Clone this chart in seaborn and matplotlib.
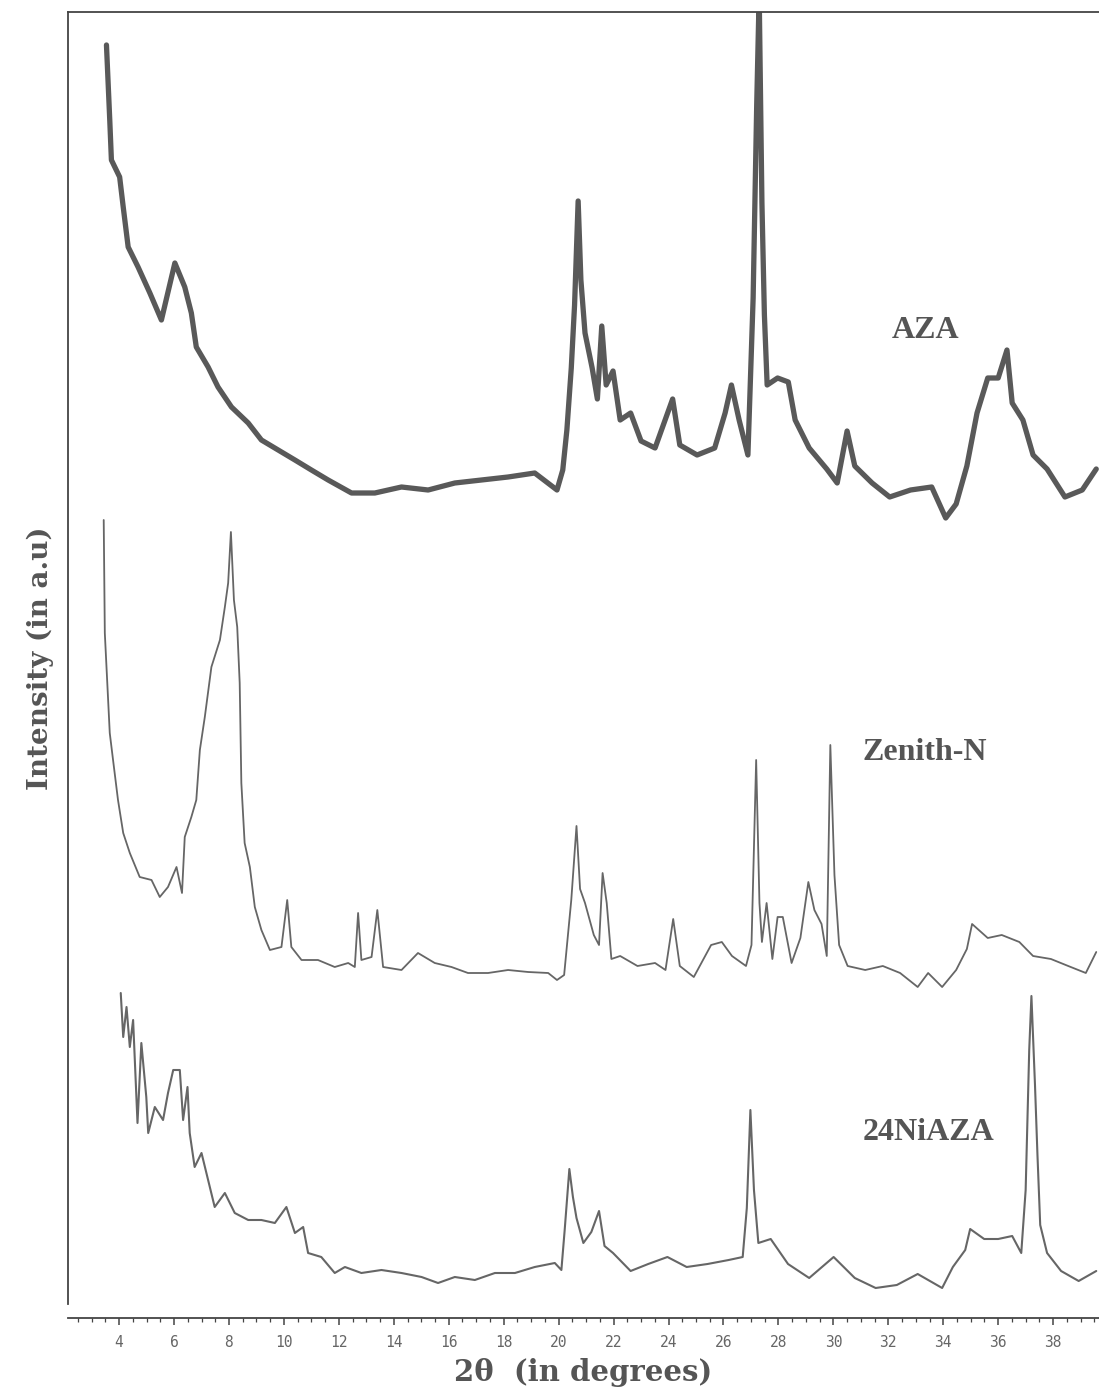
import numpy as np
import pandas as pd
import matplotlib
matplotlib.use("Agg")
import matplotlib.pyplot as plt
from matplotlib.ticker import MultipleLocator
import seaborn as sns

# ---------------- data (2theta in degrees, intensity in a.u.) ----------------
aza_2theta = [3.54, 3.66, 3.72, 4.02, 4.15, 4.33, 4.69, 5.12, 5.54, 6.03, 6.39, 6.63, 6.81,
              7.24, 7.60, 8.09, 8.70, 9.18, 9.79, 10.40, 11.0, 11.61, 12.46, 13.31, 14.28,
              15.25, 16.22, 17.19, 18.16, 19.13, 19.94, 20.15, 20.30, 20.46, 20.58, 20.71,
              20.81, 20.96, 21.22, 21.41, 21.57, 21.73, 21.98, 22.24, 22.62, 23.0, 23.51,
              24.15, 24.41, 25.04, 25.68, 26.06, 26.29, 26.57, 26.89, 27.08, 27.21, 27.30,
              27.40, 27.49, 27.59, 27.97, 28.36, 28.61, 29.12, 29.76, 30.14, 30.50, 30.78,
              31.41, 32.05, 32.81, 33.58, 34.09, 34.47, 34.86, 35.23, 35.62, 36.0, 36.32,
              36.51, 36.9, 37.27, 37.78, 38.43, 39.06, 39.57]
aza_int = [1259, 1184, 1144, 1127, 1097, 1057, 1037, 1011, 984, 1041, 1017, 991, 957,
           937, 917, 897, 881, 864, 854, 844, 834, 824, 811, 811, 817,
           814, 821, 824, 827, 831, 814, 834, 874, 936, 999, 1103,
           1024, 971, 936, 905, 978, 919, 933, 884, 891, 863, 856,
           905, 859, 849, 856, 891, 919, 884, 849, 1006, 1199, 1310,
           1101, 989, 919, 926, 922, 884, 856, 835, 821, 873, 838,
           821, 807, 814, 817, 786, 800, 838, 891, 926, 926, 954,
           901, 884, 849, 835, 807, 814, 835]

zen_2theta = [3.44, 3.48, 3.66, 3.78, 3.96, 4.15, 4.39, 4.75, 5.18, 5.48, 5.78, 6.09, 6.29,
              6.39, 6.63, 6.81, 6.94, 7.12, 7.36, 7.67, 7.85, 7.97, 8.07, 8.18, 8.30, 8.39,
              8.45, 8.57, 8.76, 8.94, 9.18, 9.49, 9.91, 10.12, 10.27, 10.64, 11.24, 11.85,
              12.34, 12.58, 12.70, 12.82, 13.19, 13.40, 13.61, 14.28, 14.88, 15.49, 16.10,
              16.70, 17.43, 18.16, 18.89, 19.62, 19.94, 20.20, 20.46, 20.65, 20.78, 20.96,
              21.28, 21.47, 21.60, 21.75, 21.92, 22.24, 22.87, 23.51, 23.89, 24.17, 24.41,
              24.92, 25.55, 25.94, 26.31, 26.82, 27.02, 27.19, 27.31, 27.40, 27.57, 27.78,
              27.97, 28.16, 28.48, 28.80, 29.09, 29.31, 29.57, 29.76, 29.89, 30.04, 30.21,
              30.52, 31.16, 31.80, 32.43, 33.07, 33.45, 33.96, 34.47, 34.86, 35.05, 35.62,
              36.13, 36.77, 37.27, 37.92, 38.55, 39.19, 39.57]
zen_int = [784, 671, 571, 544, 504, 471, 451, 427, 424, 407, 417, 437, 411,
           467, 487, 504, 554, 587, 637, 664, 697, 721, 772, 704, 677, 621,
           521, 461, 437, 397, 374, 354, 357, 404, 357, 344, 344, 337,
           341, 337, 391, 344, 347, 394, 337, 334, 351, 341, 337,
           331, 331, 334, 332, 331, 324, 329, 404, 478, 415, 401,
           369, 359, 431, 401, 345, 348, 338, 341, 334, 385, 338,
           327, 359, 362, 348, 338, 359, 544, 401, 362, 401, 345,
           387, 387, 341, 366, 422, 394, 380, 348, 559, 429, 359,
           338, 334, 338, 331, 317, 331, 317, 334, 355, 380, 366,
           369, 362, 348, 345, 338, 331, 352]

ni_2theta = [4.06, 4.15, 4.27, 4.39, 4.51, 4.67, 4.81, 4.99, 5.06, 5.30, 5.60, 5.78, 5.97,
             6.21, 6.33, 6.49, 6.57, 6.75, 7.0, 7.24, 7.48, 7.85, 8.21, 8.70, 9.18, 9.67,
             10.09, 10.40, 10.70, 10.88, 11.36, 11.85, 12.22, 12.82, 13.55, 14.28, 15.01,
             15.61, 16.22, 16.95, 17.68, 18.41, 19.13, 19.86, 20.10, 20.22, 20.39, 20.52,
             20.65, 20.90, 21.19, 21.47, 21.67, 21.98, 22.62, 23.26, 23.96, 24.66, 25.42,
             26.19, 26.70, 26.85, 26.98, 27.11, 27.27, 27.72, 28.35, 29.12, 30.01, 30.78,
             31.54, 32.31, 33.07, 33.96, 34.35, 34.80, 34.98, 35.49, 36.0, 36.51, 36.84,
             37.0, 37.13, 37.21, 37.34, 37.43, 37.53, 37.78, 38.29, 38.93, 39.57]
ni_int = [311, 267, 297, 257, 284, 181, 261, 207, 171, 197, 184, 211, 234,
          234, 184, 217, 171, 137, 151, 124, 97, 111, 91, 84, 84, 81,
          97, 71, 77, 51, 47, 31, 37, 31, 34, 31, 27,
          21, 27, 24, 31, 31, 37, 41, 34, 74, 135, 107,
          86, 61, 72, 93, 58, 51, 33, 40, 47, 37, 40,
          44, 47, 96, 194, 114, 61, 65, 40, 26, 47, 26,
          16, 19, 30, 16, 37, 54, 75, 65, 65, 68, 51,
          114, 254, 308, 219, 149, 79, 51, 33, 23, 33]

sample_names = ["AZA", "Zenith-N", "24NiAZA"]
label_pos_2theta = [33.34, 33.32, 33.45]
label_pos_int = [973, 552, 171]

x_major = 2
x_minor = 0.5
x_limits = (2.14, 39.67)
y_limits = (0, 1292)

# ---------------- figure ----------------
sns.set_theme(style="white")
plt.rcParams["font.family"] = ["DejaVu Sans"]

fig = plt.figure(figsize=(10.99, 14.0), dpi=100)
ax = fig.add_axes([68 / 1099, 96 / 1400, 1 - 68 / 1099, 1292 / 1400])

ink = "#555555"
styles = [dict(lw=3.8, color="#595959"), dict(lw=1.3, color="#666666"), dict(lw=1.5, color="#666666")]
series = [(aza_2theta, aza_int), (zen_2theta, zen_int), (ni_2theta, ni_int)]
for (xs, ys), name, st in zip(series, sample_names, styles):
    df = pd.DataFrame({"2theta": xs, "intensity": ys})
    sns.lineplot(data=df, x="2theta", y="intensity", ax=ax, sort=False,
                 estimator=None, legend=False, **st)

for name, lx, ly in zip(sample_names, label_pos_2theta, label_pos_int):
    ax.text(lx, ly, name, ha="center", va="center", fontsize=23, fontweight="bold",
            family=["Liberation Serif", "DejaVu Serif"], color=ink)

ax.set_xlim(*x_limits)
ax.set_ylim(*y_limits)

for side in ["left", "top", "bottom"]:
    ax.spines[side].set_visible(True)
    ax.spines[side].set_color("#444444")
    ax.spines[side].set_linewidth(1.3)
ax.spines["right"].set_visible(False)
ax.spines["bottom"].set_position(("outward", 10))

ax.xaxis.set_major_locator(MultipleLocator(x_major))
ax.xaxis.set_minor_locator(MultipleLocator(x_minor))
ax.set_xticks(np.arange(4, 39, 2))
ax.set_xticklabels([str(v) for v in range(4, 39, 2)], family=["DejaVu Sans Mono"],
                   fontsize=10.5, color="#666666")
ax.tick_params(axis="x", which="major", direction="out", length=5, width=1.1,
               color="#444444", pad=7, bottom=True)
ax.tick_params(axis="x", which="minor", direction="out", length=3, width=0.9,
               color="#444444", bottom=True)
ax.set_yticks([])

ax.set_xlabel("2θ  (in degrees)", fontsize=21, fontweight="bold",
              family=["DejaVu Serif"], color=ink, labelpad=6)
ax.set_ylabel("Intensity (in a.u)", fontsize=20, fontweight="bold",
              family=["DejaVu Serif"], color=ink, labelpad=10)

fig.savefig("out.png", dpi=100)
